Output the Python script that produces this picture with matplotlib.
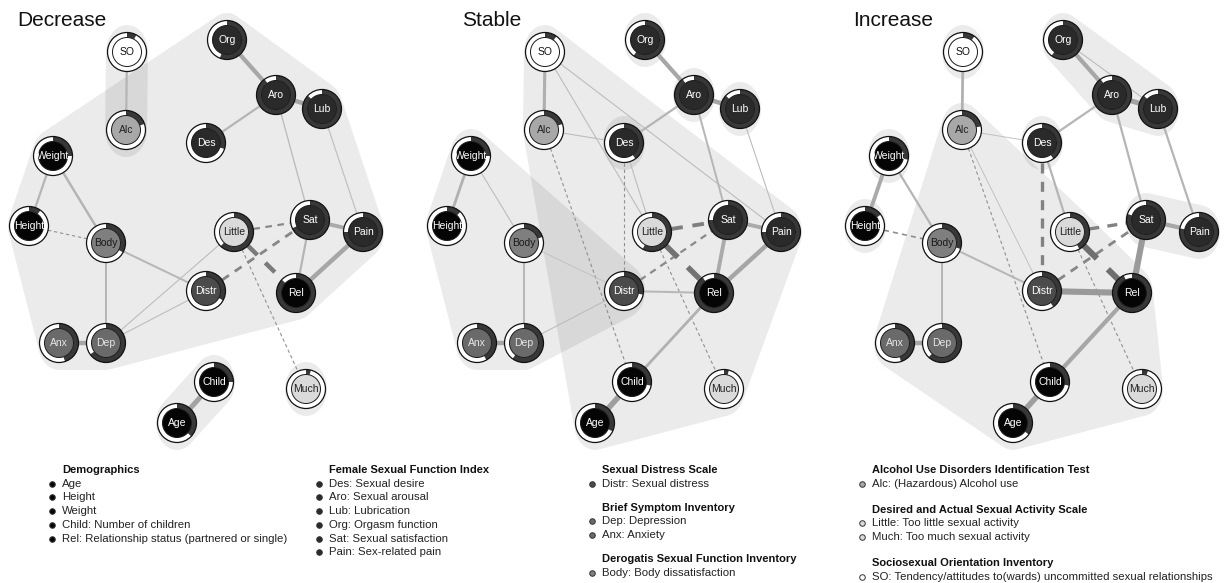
import numpy as np
import matplotlib.pyplot as plt
from matplotlib.patches import Circle, Wedge, Polygon

plt.rcParams['font.family'] = ['Liberation Sans', 'DejaVu Sans']

W, H = 1224, 583

# node layout, shared by the three panels (pixels from the panel's top-left corner)
nodes = ['SO', 'Alc', 'Org', 'Aro', 'Lub', 'Des', 'Weight', 'Height', 'Body', 'Little',
         'Sat', 'Pain', 'Distr', 'Rel', 'Anx', 'Dep', 'Child', 'Age', 'Much']
layout_x = [127, 126, 227, 276, 322, 206, 53, 29, 106, 234, 310, 363, 206, 296, 59, 106, 214, 177, 306]
layout_y = [52, 130, 40, 95, 109, 143, 156, 226, 243, 232, 220, 232, 291, 293, 343, 343, 382, 423, 389]

node_fill = ['#ffffff', '#a8a8a8', '#2a2a2a', '#2a2a2a', '#2a2a2a', '#2a2a2a', '#050505', '#050505',
             '#7f7f7f', '#dadada', '#2a2a2a', '#2a2a2a', '#4b4b4b', '#050505', '#6a6a6a', '#6a6a6a',
             '#050505', '#050505', '#dadada']
label_color = ['#111111', '#222222', 'white', 'white', 'white', 'white', 'white', 'white',
               '#1a1a1a', '#222222', 'white', 'white', 'white', 'white', '#e6e6e6', '#e6e6e6',
               'white', 'white', '#222222']

panel_titles = ['Decrease', 'Stable', 'Increase']
panel_offset = [0, 418, 836]
title_x = [17, 462, 853]

# pie (ring) values, same node order
pie_decrease = [0.08, 0.2, 0.56, 0.9, 0.87, 0.3, 0.25, 0.1, 0.33, 0.62, 0.68, 0.75, 0.33, 0.87, 0.45, 0.65, 0.25, 0.37, 0.04]
pie_stable = [0.1, 0.2, 0.6, 0.9, 0.87, 0.4, 0.25, 0.12, 0.2, 0.58, 0.75, 0.75, 0.28, 0.9, 0.42, 0.6, 0.28, 0.32, 0.04]
pie_increase = [0.1, 0.22, 0.6, 0.9, 0.87, 0.4, 0.28, 0.15, 0.3, 0.42, 0.8, 0.78, 0.4, 0.93, 0.45, 0.62, 0.28, 0.35, 0.05]

# edges (negative = dashed)
edges_decrease = [('SO', 'Alc', 0.2), ('Org', 'Aro', 0.38), ('Aro', 'Lub', 0.4), ('Aro', 'Des', 0.2),
                  ('Aro', 'Sat', 0.12), ('Lub', 'Pain', 0.1), ('Weight', 'Height', 0.2), ('Weight', 'Body', 0.22),
                  ('Height', 'Body', -0.1), ('Body', 'Dep', 0.18), ('Body', 'Distr', 0.18), ('Anx', 'Dep', 0.4),
                  ('Dep', 'Little', 0.1), ('Dep', 'Distr', 0.1), ('Little', 'Sat', -0.2), ('Distr', 'Sat', -0.25),
                  ('Sat', 'Pain', 0.35), ('Sat', 'Rel', 0.2), ('Pain', 'Rel', 0.4), ('Little', 'Much', -0.1),
                  ('Little', 'Rel', -0.4), ('Child', 'Age', 0.45)]
edges_stable = [('SO', 'Alc', 0.28), ('SO', 'Little', 0.1), ('SO', 'Pain', 0.1), ('Alc', 'Des', 0.1),
                ('Alc', 'Child', -0.1), ('Org', 'Aro', 0.38), ('Aro', 'Lub', 0.4), ('Aro', 'Des', 0.2),
                ('Aro', 'Sat', 0.18), ('Lub', 'Pain', 0.1), ('Des', 'Distr', -0.1), ('Des', 'Little', 0.1),
                ('Weight', 'Height', 0.25), ('Weight', 'Body', 0.1), ('Body', 'Dep', 0.18), ('Body', 'Distr', 0.07),
                ('Anx', 'Dep', 0.4), ('Dep', 'Distr', 0.1), ('Little', 'Sat', -0.35), ('Distr', 'Sat', -0.2),
                ('Little', 'Much', -0.1), ('Little', 'Rel', -0.5), ('Sat', 'Pain', 0.35), ('Sat', 'Rel', 0.35),
                ('Pain', 'Rel', 0.4), ('Distr', 'Rel', 0.18), ('Rel', 'Child', 0.25), ('Child', 'Age', 0.5)]
edges_increase = [('SO', 'Alc', 0.25), ('Alc', 'Des', 0.08), ('Alc', 'Distr', 0.08), ('Alc', 'Child', -0.1),
                  ('Org', 'Aro', 0.38), ('Org', 'Lub', 0.1), ('Aro', 'Lub', 0.45), ('Aro', 'Des', 0.2),
                  ('Aro', 'Sat', 0.2), ('Lub', 'Pain', 0.2), ('Des', 'Distr', -0.3), ('Des', 'Little', 0.2),
                  ('Weight', 'Height', 0.35), ('Weight', 'Body', 0.2), ('Height', 'Body', -0.15), ('Body', 'Dep', 0.18),
                  ('Body', 'Distr', 0.18), ('Anx', 'Dep', 0.4), ('Little', 'Sat', -0.3), ('Distr', 'Sat', -0.25),
                  ('Little', 'Much', -0.1), ('Little', 'Rel', -0.55), ('Sat', 'Pain', 0.38), ('Sat', 'Rel', 0.55),
                  ('Distr', 'Rel', 0.55), ('Rel', 'Child', 0.38), ('Child', 'Age', 0.5)]

# communities (shaded hulls)
groups_decrease = [['SO', 'Alc'],
                   ['Org', 'Aro', 'Lub', 'Des', 'Weight', 'Height', 'Body', 'Little', 'Sat', 'Pain', 'Distr', 'Rel', 'Anx', 'Dep'],
                   ['Child', 'Age'], ['Much']]
groups_stable = [['Org'], ['Aro'], ['Lub'], ['Des'],
                 ['Weight', 'Height', 'Body', 'Anx', 'Dep', 'Distr'],
                 ['SO', 'Alc', 'Little', 'Sat', 'Pain', 'Rel', 'Child', 'Age', 'Much']]
groups_increase = [['SO'], ['Org', 'Aro', 'Lub'], ['Des'], ['Weight'], ['Height'], ['Sat', 'Pain'],
                   ['Alc', 'Little', 'Body', 'Distr', 'Anx', 'Dep', 'Rel', 'Child', 'Age', 'Much']]

pies = [pie_decrease, pie_stable, pie_increase]
edges = [edges_decrease, edges_stable, edges_increase]
groups = [groups_decrease, groups_stable, groups_increase]

legend_sections = [
    ('Demographics', ['Age', 'Height', 'Weight', 'Child: Number of children',
                      'Rel: Relationship status (partnered or single)'], 'Age'),
    ('Female Sexual Function Index', ['Des: Sexual desire', 'Aro: Sexual arousal', 'Lub: Lubrication',
                                      'Org: Orgasm function', 'Sat: Sexual satisfaction', 'Pain: Sex-related pain'], 'Des'),
    ('Sexual Distress Scale', ['Distr: Sexual distress'], 'Distr'),
    ('Brief Symptom Inventory', ['Dep: Depression', 'Anx: Anxiety'], 'Dep'),
    ('Derogatis Sexual Function Inventory', ['Body: Body dissatisfaction'], 'Body'),
    ('Alcohol Use Disorders Identification Test', ['Alc: (Hazardous) Alcohol use'], 'Alc'),
    ('Desired and Actual Sexual Activity Scale', ['Little: Too little sexual activity',
                                                  'Much: Too much sexual activity'], 'Little'),
    ('Sociosexual Orientation Inventory', ['SO: Tendency/attitudes to(wards) uncommitted sexual relationships'], 'SO'),
]
legend_column = [0, 1, 2, 2, 2, 3, 3, 3]
column_x = [62, 329, 602, 872]
section_gap = [24, 24, 24, 26]

R_OUT, R_IN = 19.5, 14.5
HALO_RX, HALO_RY = 21, 27


def convex_hull(pts):
    pts = sorted(set(pts))
    def cross(o, a, b):
        return (a[0] - o[0]) * (b[1] - o[1]) - (a[1] - o[1]) * (b[0] - o[0])
    lower, upper = [], []
    for p in pts:
        while len(lower) >= 2 and cross(lower[-2], lower[-1], p) <= 0:
            lower.pop()
        lower.append(p)
    for p in reversed(pts):
        while len(upper) >= 2 and cross(upper[-2], upper[-1], p) <= 0:
            upper.pop()
        upper.append(p)
    return lower[:-1] + upper[:-1]


fig = plt.figure(figsize=(W / 100, H / 100), dpi=100)
ax = fig.add_axes([0, 0, 1, 1])
ax.set_xlim(0, W)
ax.set_ylim(0, H)
ax.axis('off')

idx = {n: i for i, n in enumerate(nodes)}
t = np.linspace(0, 2 * np.pi, 48, endpoint=False)

for p in range(3):
    px = np.array(layout_x) + panel_offset[p]
    py = H - np.array(layout_y)

    ax.text(title_x[p], H - 21, panel_titles[p], fontsize=15, ha='left', va='center', color='#111111')

    # hulls
    for g in groups[p]:
        pts = []
        for n in g:
            i = idx[n]
            for a in t:
                pts.append((round(px[i] + HALO_RX * np.cos(a), 2), round(py[i] + HALO_RY * np.sin(a), 2)))
        hull = convex_hull(pts)
        ax.add_patch(Polygon(hull, closed=True, fc='black', ec='none', alpha=0.08, zorder=1))

    # edges
    for a, b, w in edges[p]:
        i, j = idx[a], idx[b]
        x1, y1, x2, y2 = px[i], py[i], px[j], py[j]
        d = np.hypot(x2 - x1, y2 - y1)
        ux, uy = (x2 - x1) / d, (y2 - y1) / d
        xs = [x1 + ux * R_OUT, x2 - ux * R_OUT]
        ys = [y1 + uy * R_OUT, y2 - uy * R_OUT]
        lw = max(0.6, 8 * abs(w))
        if w > 0:
            g = 0.77 - 0.3 * abs(w)
            ax.plot(xs, ys, color=(g, g, g), lw=lw, solid_capstyle='butt', zorder=2)
        else:
            g = 0.6 - 0.3 * abs(w)
            ax.plot(xs, ys, color=(g, g, g), lw=lw, linestyle=(0, (3, 2.5)),
                    dash_capstyle='butt', zorder=2)

    # nodes with pie rings
    for i, n in enumerate(nodes):
        c = (px[i], py[i])
        f = pies[p][i]
        ax.add_patch(Circle(c, R_OUT, fc='white', ec='none', zorder=3))
        ax.add_patch(Wedge(c, R_OUT, 90 - 360 * f, 90, width=R_OUT - R_IN, fc='#383838', ec='none', zorder=4))
        ax.add_patch(Circle(c, R_IN, fc=node_fill[i], ec='#1a1a1a', lw=0.7, zorder=5))
        ax.add_patch(Circle(c, R_OUT, fill=False, ec='#111111', lw=0.9, zorder=6))
        ax.text(c[0], c[1], n, fontsize=7.5, color=label_color[i], ha='center', va='center', zorder=7)

# legend
col_y = {}
for (title, items, key), col in zip(legend_sections, legend_column):
    tx = column_x[col]
    y = col_y.get(col, 470)
    ax.text(tx, H - y, title, fontsize=8.0, fontweight='bold', ha='left', va='center', color='#111111')
    for it in items:
        y += 13.7
        ax.plot(tx - 10, H - y, 'o', ms=4, mfc=node_fill[idx[key]], mec='#333333', mew=0.7)
        ax.text(tx, H - y, it, fontsize=8.2, ha='left', va='center', color='#222222')
    col_y[col] = y + section_gap[col]

plt.savefig('out.png', dpi=100)
